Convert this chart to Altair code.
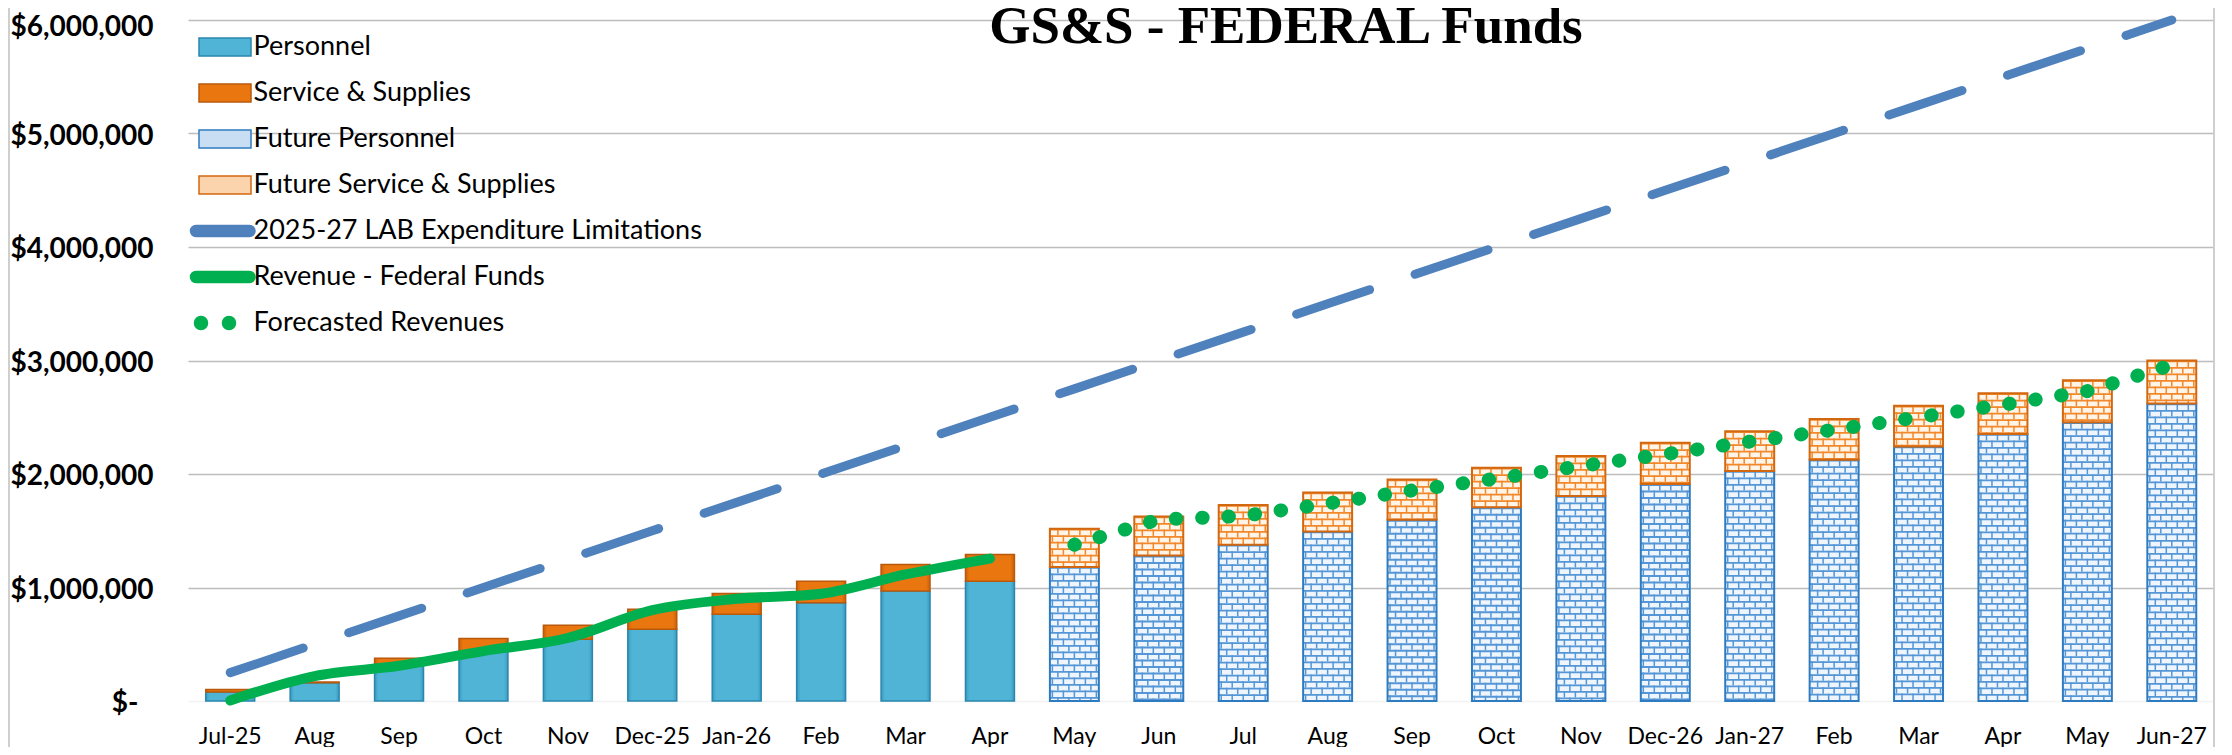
import altair as alt
import pandas as pd

# ---------------- data ----------------
months = ["Jul-25", "Aug", "Sep", "Oct", "Nov", "Dec-25", "Jan-26", "Feb", "Mar", "Apr",
          "May", "Jun", "Jul", "Aug", "Sep", "Oct", "Nov", "Dec-26", "Jan-27", "Feb",
          "Mar", "Apr", "May", "Jun-27"]

personnel_actual = [79000, 160000, 327000, 443000, 545000, 633000, 765000, 866000, 969000, 1055000]
ss_actual = [23000, 8000, 49000, 108000, 123000, 175000, 183000, 190000, 233000, 235000]

personnel_future = [1181000, 1281000, 1377000, 1494000, 1596000, 1706000, 1806000,
                    1911000, 2027000, 2126000, 2243000, 2353000, 2456000, 2622000]
ss_future = [336000, 344000, 350000, 343000, 355000, 350000, 352000,
             364000, 350000, 359000, 359000, 359000, 370000, 379000]

lab_limit = [250000, 500000, 750000, 1000000, 1250000, 1500000, 1750000, 2000000,
             2250000, 2500000, 2750000, 3000000, 3250000, 3500000, 3750000, 4000000,
             4250000, 4500000, 4750000, 5000000, 5250000, 5500000, 5750000, 6000000]

revenue = [5000, 220000, 310000, 440000, 555000, 800000, 900000, 945000, 1115000, 1255000]

forecast = [1377000, 1600000, 1630000, 1740000, 1855000, 1960000, 2070000,
            2175000, 2285000, 2390000, 2500000, 2610000, 2730000, 2960000]

y_ticks = [0, 1000000, 2000000, 3000000, 4000000, 5000000, 6000000]

legend_names = ["Personnel", "Service & Supplies", "Future Personnel",
                "Future Service & Supplies", "2025-27 LAB Expenditure Limitations",
                "Revenue - Federal Funds", "Forecasted Revenues"]

# ---------------- table ----------------
n = len(months)


def pad(vals, start):
    return [None] * start + list(vals) + [None] * (n - start - len(vals))


n_act = len(personnel_actual)
df = pd.DataFrame({
    "idx": list(range(n)),
    "p_act": pad(personnel_actual, 0),
    "s_act": pad(ss_actual, 0),
    "p_fut": pad(personnel_future, n_act),
    "s_fut": pad(ss_future, n_act),
    "lab": lab_limit,
    "rev": pad(revenue, 0),
    "fc": pad(forecast, n_act),
})

# ---------------- styles ----------------
FONT = "Lato"
BLUE_FILL = "#4FB4D6"
BLUE_EDGE = "#2A86AE"
ORANGE_FILL = "#E9760F"
ORANGE_EDGE = "#B9590C"
FB_BRICK = "#EEF5FC"
FB_MORTAR = "#5596D6"
FB_EDGE = "#2F7BC0"
FO_BRICK = "#FFF4E8"
FO_MORTAR = "#F2882A"
FO_EDGE = "#D2670F"
LAB_BLUE = "#4F81BD"
GREEN = "#00B050"


def hgrad(edge, mid):
    return alt.Gradient(gradient="linear", x1=0, x2=1, y1=0, y2=0,
                        stops=[alt.GradientStop(offset=0, color=edge),
                               alt.GradientStop(offset=0.08, color=mid),
                               alt.GradientStop(offset=0.92, color=mid),
                               alt.GradientStop(offset=1, color=edge)])


W, H = 2026, 681
STEP = W / n
BW = STEP * 0.58

label_arr = "[" + ",".join("'" + m + "'" for m in months) + "]"

X = alt.X("idx:O", title=None,
          scale=alt.Scale(paddingInner=0.42, paddingOuter=0.21),
          axis=alt.Axis(labelExpr=label_arr + "[datum.value]", labelAngle=0,
                        labelFont=FONT, labelFontSize=23, labelColor="#000",
                        ticks=False, domain=False, grid=False, labelPadding=24))

yaxis = alt.Axis(values=y_ticks,
                 labelExpr="datum.value == 0 ? '$-' : '$' + format(datum.value, ',')",
                 labelFont=FONT, labelFontSize=28, labelFontWeight="bold", labelColor="#000",
                 ticks=False, domain=False,
                 labelOffset={"condition": {"test": "datum.value === 6000000", "value": 7}, "value": 2.5},
                 labelPadding={"condition": {"test": "datum.value === 0", "value": 50}, "value": 35},
                 gridColor={"condition": {"test": "datum.value === 0", "value": "#F2F2F2"},
                            "value": "#BDBDBD"},
                 gridWidth=1.6)
yscale = alt.Scale(domain=[0, 6000000], nice=False, zero=True)


def Y(field):
    return alt.Y(field + ":Q", title=None, scale=yscale, axis=yaxis)


base = alt.Chart(df)

act = base.transform_filter("isValid(datum.p_act)").transform_calculate(
    zero="0", top="datum.p_act + datum.s_act")
fut = base.transform_filter("isValid(datum.p_fut)").transform_calculate(
    zero="0", top="datum.p_fut + datum.s_fut")

layers = []

# actual bars
layers.append(act.mark_bar(fill=hgrad("#3A9AC0", BLUE_FILL), stroke=BLUE_EDGE, strokeWidth=1.5)
              .encode(x=X, y=Y("p_act"), y2="zero:Q"))
layers.append(act.mark_bar(fill=hgrad("#C9620C", ORANGE_FILL), stroke=ORANGE_EDGE, strokeWidth=1.5)
              .encode(x=X, y=Y("top"), y2="p_act:Q"))


# future bars with a brick texture
def brick(top, bottom, brick_fill, mortar, edge):
    out = [fut.mark_bar(fill=brick_fill, strokeWidth=0).encode(x=X, y=Y(top), y2=bottom + ":Q")]
    out.append(fut.mark_rule(stroke=mortar, strokeWidth=BW, strokeDash=[1.8, 4.7])
               .encode(x=X, y=Y(top), y2=bottom + ":Q"))
    for dx in [-16.5, -5.5, 5.5, 16.5]:
        out.append(fut.mark_rule(stroke=mortar, strokeWidth=1.5, strokeDash=[6.5, 6.5], xOffset=dx)
                   .encode(x=X, y=Y(top), y2=bottom + ":Q"))
    for dx in [-22, -11, 0, 11, 22]:
        out.append(fut.mark_rule(stroke=mortar, strokeWidth=1.5, strokeDash=[6.5, 6.5],
                                 strokeDashOffset=6.5, xOffset=dx)
                   .encode(x=X, y=Y(top), y2=bottom + ":Q"))
    out.append(fut.mark_bar(fillOpacity=0, stroke=edge, strokeWidth=2)
               .encode(x=X, y=Y(top), y2=bottom + ":Q"))
    return out


layers += brick("p_fut", "zero", FB_BRICK, FB_MORTAR, FB_EDGE)
layers += brick("top", "p_fut", FO_BRICK, FO_MORTAR, FO_EDGE)

# lines
layers.append(base.mark_line(stroke=LAB_BLUE, strokeWidth=9, strokeDash=[77, 48], strokeCap="round")
              .encode(x=X, y=Y("lab")))
layers.append(base.transform_filter("isValid(datum.rev)")
              .mark_line(stroke=GREEN, strokeWidth=10, strokeCap="round", strokeJoin="round",
                         interpolate="monotone")
              .encode(x=X, y=Y("rev")))
layers.append(base.transform_filter("isValid(datum.fc)")
              .mark_line(stroke=GREEN, strokeWidth=14, strokeDash=[0.5, 25.8], strokeCap="round")
              .encode(x=X, y=Y("fc")))

# chart-area border lines
one = pd.DataFrame({"a": [0]})
layers.append(alt.Chart(one).mark_rule(stroke="#CFCFCF", strokeWidth=2)
              .encode(x=alt.value(-179), y=alt.value(-12), y2=alt.value(H + 46)))
layers.append(alt.Chart(one).mark_rule(stroke="#CFCFCF", strokeWidth=2)
              .encode(x=alt.value(W), y=alt.value(-12), y2=alt.value(H + 46)))

# legend (custom symbols)
rect = "M-2.6,-0.9H2.6V0.9H-2.6Z"
capsule = "M-2.9,-0.55H2.45A0.55,0.55 0 0 1 2.45,0.55H-2.9A0.55,0.55 0 0 1 -2.9,-0.55Z"
dots = ("M-3.05,0A0.65,0.65 0 1 0 -1.75,0A0.65,0.65 0 1 0 -3.05,0Z"
        "M-0.25,0A0.65,0.65 0 1 0 1.05,0A0.65,0.65 0 1 0 -0.25,0Z")
legend_shapes = [rect, rect, rect, rect, capsule, capsule, dots]
legend_fills = [BLUE_FILL, ORANGE_FILL, "#C9DEF3", "#FBD3AC", LAB_BLUE, GREEN, GREEN]
legend_strokes = [BLUE_EDGE, ORANGE_EDGE, FB_EDGE, FO_EDGE, LAB_BLUE, GREEN, GREEN]

leg = alt.Legend(title=None, orient="none", legendX=23.5, legendY=13.5, padding=0,
                 labelFont=FONT, labelFontSize=27, labelColor="#000", labelLimit=0,
                 symbolSize=400, symbolStrokeWidth=1.5, symbolOpacity=1,
                 labelOffset=15, rowPadding=18)
leg_df = pd.DataFrame({"series": legend_names})
layers.append(alt.Chart(leg_df).transform_filter("false").mark_point(filled=True, opacity=1)
              .encode(shape=alt.Shape("series:N", scale=alt.Scale(domain=legend_names, range=legend_shapes), legend=leg),
                      fill=alt.Fill("series:N", scale=alt.Scale(domain=legend_names, range=legend_fills), legend=leg),
                      stroke=alt.Stroke("series:N", scale=alt.Scale(domain=legend_names, range=legend_strokes), legend=leg)))

chart = alt.layer(*layers).properties(
    width=W, height=H,
    autosize=alt.AutoSizeParams(type="none"),
    padding={"left": 180, "top": 12, "right": 10, "bottom": 46},
    title=alt.TitleParams("GS&S - FEDERAL Funds", font="Liberation Serif", fontSize=53,
                          fontWeight="bold", color="#000", anchor="middle", frame="group",
                          dx=85, offset=-52),
    background="white",
).configure_view(stroke=None)

chart.save("out.html", embed_options={"renderer": "svg", "actions": False})
